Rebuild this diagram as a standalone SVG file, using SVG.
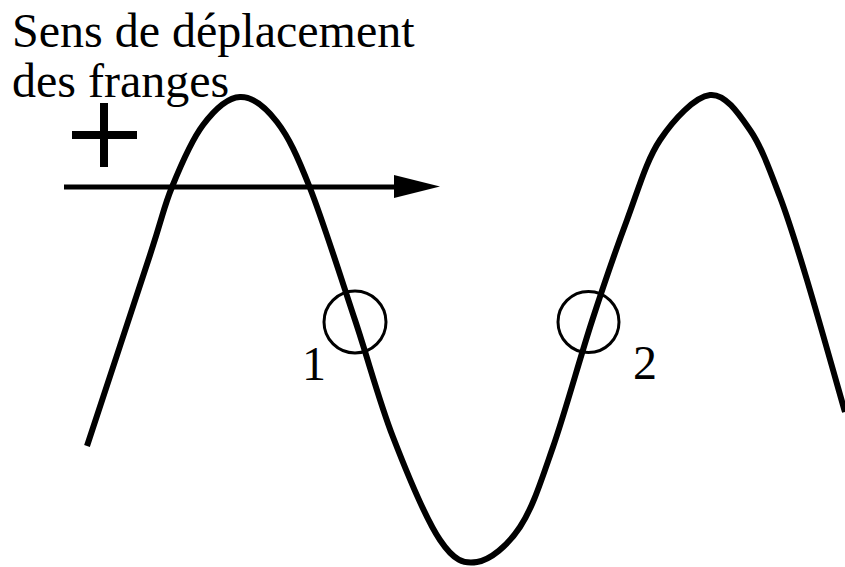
<svg xmlns="http://www.w3.org/2000/svg" width="845" height="567" viewBox="0 0 845 567">
<style>
.lbl{font-family:"Liberation Serif","Times New Roman",serif;font-size:48px;fill:#000}
.curve{fill:none;stroke:#000;stroke-width:6;stroke-linejoin:round}
.ring{fill:none;stroke:#000;stroke-width:3}
.bar{stroke:#000;fill:none}
</style>
<rect width="845" height="567" fill="#fff"/>
<g id="title">
<text class="lbl" x="12" y="47">Sens de déplacement</text>
<text class="lbl" x="12" y="97">des franges</text>
</g>
<g id="plus">
<line class="bar" x1="72" y1="135" x2="137" y2="135" stroke-width="8"/>
<line class="bar" x1="104" y1="103" x2="104" y2="167" stroke-width="8"/>
</g>
<g id="wave">
<path class="curve" d="M87,446 C97.5,414.2 135.8,298.2 150,255 C164.2,211.8 163.2,208.7 172,187 C180.8,165.3 191.7,140 203,125 C214.3,110 227.7,97.5 240,97 C252.3,96.5 265.3,106.8 277,122 C288.7,137.2 297,155 310,188 C323,221 341.2,278.5 355,320 C368.8,361.5 378.8,400.3 393,437 C407.2,473.7 426,519.2 440,540 C454,560.8 463.7,564.2 477,562 C490.3,559.8 507.3,546.2 520,527 C532.7,507.8 541,481.3 553,447 C565,412.7 579.7,358.8 592,321 C604.3,283.2 615.7,250.2 627,220 C638.3,189.8 646.2,160.8 660,140 C673.8,119.2 695,96.7 710,95 C725,93.3 738.3,113 750,130 C761.7,147 770.5,172 780,197 C789.5,222 796.2,244.2 807,280 C817.8,315.8 838.7,390 845,412"/>
</g>
<g id="connectors">
<line x1="64" y1="187" x2="396" y2="187" stroke="#000" stroke-width="5"/>
<polygon points="394,175 440,186.5 394,198" fill="#000"/>
</g>
<g id="point1">
<circle class="ring" cx="355" cy="322" r="31"/>
<text class="lbl" x="302" y="380">1</text>
</g>
<g id="point2">
<circle class="ring" cx="588.5" cy="322" r="30.5"/>
<text class="lbl" x="633" y="379">2</text>
</g>
</svg>
